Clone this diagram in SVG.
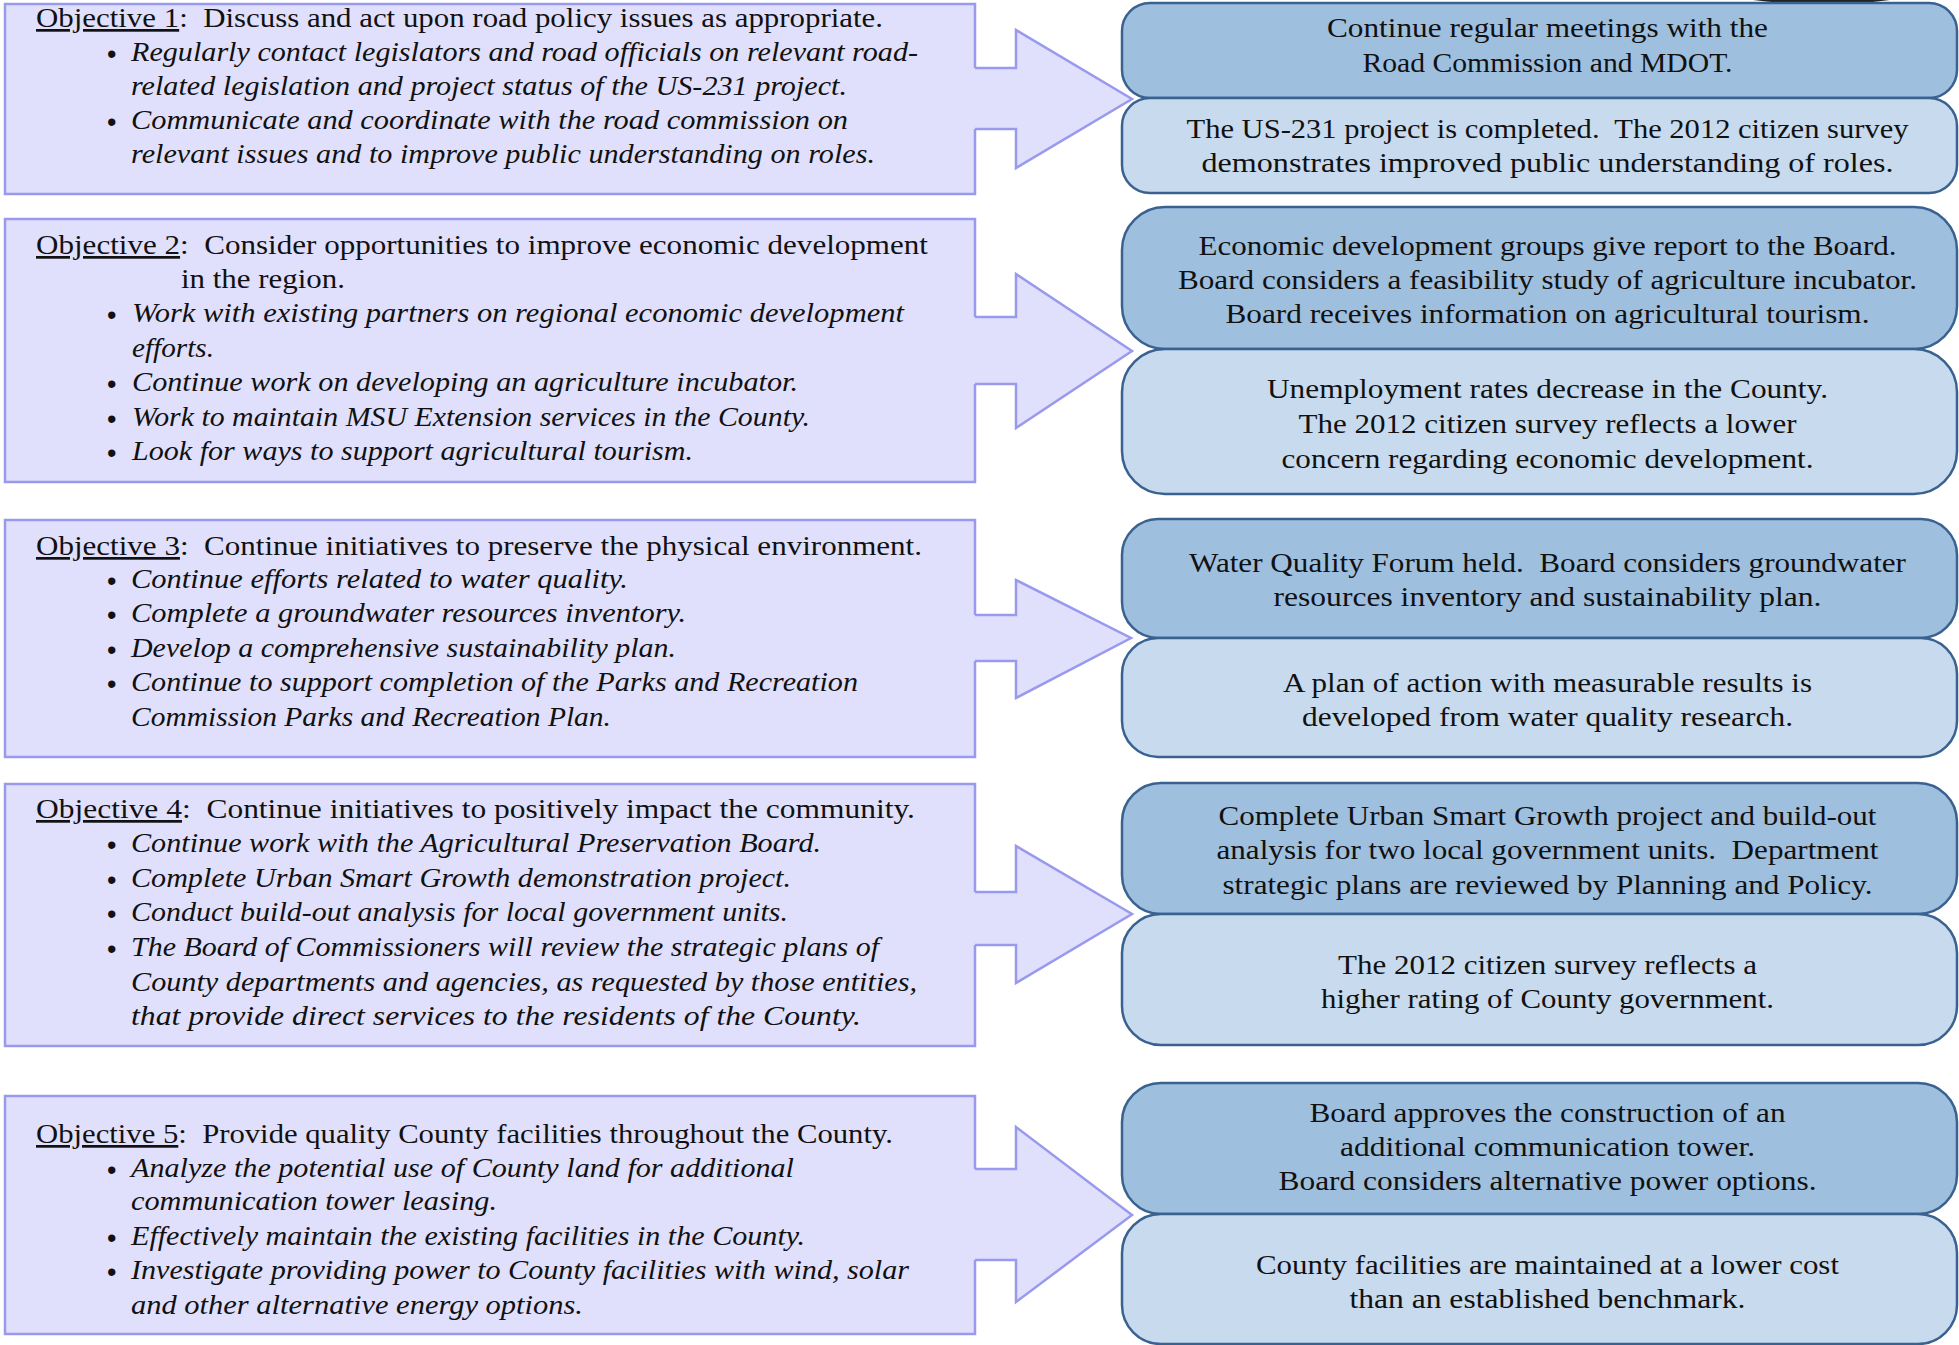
<svg xmlns="http://www.w3.org/2000/svg" width="1959" height="1345" viewBox="0 0 1959 1345">
<style>
.t{font-family:"Liberation Serif","Times New Roman",serif;font-size:27px;fill:#111}
.i{font-style:italic}
.c{text-anchor:middle}
.u{text-decoration:underline}
.b{font-family:"Liberation Sans",Arial,sans-serif;font-size:27px;fill:#111}
.lb{fill:#E0E0FC;stroke:#9999EE;stroke-width:2.5}
.af{fill:#E0E0FC;stroke:none}
.al{fill:none;stroke:#9999EE;stroke-width:2.5;stroke-linejoin:miter}
.rt{fill:#9FBFDF;stroke:#3A6290;stroke-width:2.5}
.rb{fill:#C8DAEE;stroke:#3A6290;stroke-width:2.5}
</style>
<rect width="1959" height="1345" fill="#FFFFFF"/>
<path d="M1753,0 Q1821,9 1890,0 Z" fill="#222"/>

<g id="obj1">
<rect class="lb" x="5" y="4" width="970" height="190"/>
<text class="t" x="36" y="27" textLength="847" lengthAdjust="spacingAndGlyphs"><tspan class="u">Objective 1</tspan>:&#160; Discuss and act upon road policy issues as appropriate.</text>
<text class="b" x="107" y="63">•</text>
<text class="t i" x="131" y="61" textLength="787" lengthAdjust="spacingAndGlyphs">Regularly contact legislators and road officials on relevant road-</text>
<text class="t i" x="131" y="95" textLength="716" lengthAdjust="spacingAndGlyphs">related legislation and project status of the US-231 project.</text>
<text class="b" x="107" y="131">•</text>
<text class="t i" x="131" y="129" textLength="717" lengthAdjust="spacingAndGlyphs">Communicate and coordinate with the road commission on</text>
<text class="t i" x="131" y="163" textLength="744" lengthAdjust="spacingAndGlyphs">relevant issues and to improve public understanding on roles.</text>
</g>

<g id="obj2">
<rect class="lb" x="5" y="219" width="970" height="263"/>
<text class="t" x="36" y="254" textLength="892" lengthAdjust="spacingAndGlyphs"><tspan class="u">Objective 2</tspan>:&#160; Consider opportunities to improve economic development</text>
<text class="t" x="181" y="288" textLength="164" lengthAdjust="spacingAndGlyphs">in the region.</text>
<text class="b" x="107" y="324">•</text>
<text class="t i" x="132" y="322" textLength="772" lengthAdjust="spacingAndGlyphs">Work with existing partners on regional economic development</text>
<text class="t i" x="132" y="357" textLength="82" lengthAdjust="spacingAndGlyphs">efforts.</text>
<text class="b" x="107" y="393">•</text>
<text class="t i" x="132" y="391" textLength="666" lengthAdjust="spacingAndGlyphs">Continue work on developing an agriculture incubator.</text>
<text class="b" x="107" y="428">•</text>
<text class="t i" x="132" y="426" textLength="678" lengthAdjust="spacingAndGlyphs">Work to maintain MSU Extension services in the County.</text>
<text class="b" x="107" y="462">•</text>
<text class="t i" x="132" y="460" textLength="561" lengthAdjust="spacingAndGlyphs">Look for ways to support agricultural tourism.</text>
</g>

<g id="obj3">
<rect class="lb" x="5" y="520" width="970" height="237"/>
<text class="t" x="36" y="555" textLength="886" lengthAdjust="spacingAndGlyphs"><tspan class="u">Objective 3</tspan>:&#160; Continue initiatives to preserve the physical environment.</text>
<text class="b" x="107" y="590">•</text>
<text class="t i" x="131" y="588" textLength="497" lengthAdjust="spacingAndGlyphs">Continue efforts related to water quality.</text>
<text class="b" x="107" y="624">•</text>
<text class="t i" x="131" y="622" textLength="555" lengthAdjust="spacingAndGlyphs">Complete a groundwater resources inventory.</text>
<text class="b" x="107" y="659">•</text>
<text class="t i" x="131" y="657" textLength="545" lengthAdjust="spacingAndGlyphs">Develop a comprehensive sustainability plan.</text>
<text class="b" x="107" y="693">•</text>
<text class="t i" x="131" y="691" textLength="727" lengthAdjust="spacingAndGlyphs">Continue to support completion of the Parks and Recreation</text>
<text class="t i" x="131" y="726" textLength="480" lengthAdjust="spacingAndGlyphs">Commission Parks and Recreation Plan.</text>
</g>

<g id="obj4">
<rect class="lb" x="5" y="784" width="970" height="262"/>
<text class="t" x="36" y="818" textLength="879" lengthAdjust="spacingAndGlyphs"><tspan class="u">Objective 4</tspan>:&#160; Continue initiatives to positively impact the community.</text>
<text class="b" x="107" y="854">•</text>
<text class="t i" x="131" y="852" textLength="690" lengthAdjust="spacingAndGlyphs">Continue work with the Agricultural Preservation Board.</text>
<text class="b" x="107" y="889">•</text>
<text class="t i" x="131" y="887" textLength="660" lengthAdjust="spacingAndGlyphs">Complete Urban Smart Growth demonstration project.</text>
<text class="b" x="107" y="923">•</text>
<text class="t i" x="131" y="921" textLength="657" lengthAdjust="spacingAndGlyphs">Conduct build-out analysis for local government units.</text>
<text class="b" x="107" y="958">•</text>
<text class="t i" x="131" y="956" textLength="748" lengthAdjust="spacingAndGlyphs">The Board of Commissioners will review the strategic plans of</text>
<text class="t i" x="131" y="991" textLength="786" lengthAdjust="spacingAndGlyphs">County departments and agencies, as requested by those entities,</text>
<text class="t i" x="131" y="1025" textLength="730" lengthAdjust="spacingAndGlyphs">that provide direct services to the residents of the County.</text>
</g>

<g id="obj5">
<rect class="lb" x="5" y="1096" width="970" height="238"/>
<text class="t" x="36" y="1143" textLength="857" lengthAdjust="spacingAndGlyphs"><tspan class="u">Objective 5</tspan>:&#160; Provide quality County facilities throughout the County.</text>
<text class="b" x="107" y="1179">•</text>
<text class="t i" x="131" y="1177" textLength="663" lengthAdjust="spacingAndGlyphs">Analyze the potential use of County land for additional</text>
<text class="t i" x="131" y="1210" textLength="366" lengthAdjust="spacingAndGlyphs">communication tower leasing.</text>
<text class="b" x="107" y="1247">•</text>
<text class="t i" x="131" y="1245" textLength="674" lengthAdjust="spacingAndGlyphs">Effectively maintain the existing facilities in the County.</text>
<text class="b" x="107" y="1281">•</text>
<text class="t i" x="131" y="1279" textLength="778" lengthAdjust="spacingAndGlyphs">Investigate providing power to County facilities with wind, solar</text>
<text class="t i" x="131" y="1314" textLength="452" lengthAdjust="spacingAndGlyphs">and other alternative energy options.</text>
</g>

<g id="connectors">
<g id="arrow1">
<polygon class="af" points="972,68 1016,68 1016,30 1132,99 1016,168 1016,129 972,129"/>
<polyline class="al" points="975,68 1016,68 1016,30 1132,99 1016,168 1016,129 975,129"/>
</g>
<g id="arrow2">
<polygon class="af" points="972,317 1016,317 1016,274 1132,351 1016,428 1016,384 972,384"/>
<polyline class="al" points="975,317 1016,317 1016,274 1132,351 1016,428 1016,384 975,384"/>
</g>
<g id="arrow3">
<polygon class="af" points="972,615 1016,615 1016,580 1131,638 1016,698 1016,661 972,661"/>
<polyline class="al" points="975,615 1016,615 1016,580 1131,638 1016,698 1016,661 975,661"/>
</g>
<g id="arrow4">
<polygon class="af" points="972,892 1016,892 1016,846 1132,914 1016,983 1016,945 972,945"/>
<polyline class="al" points="975,892 1016,892 1016,846 1132,914 1016,983 1016,945 975,945"/>
</g>
<g id="arrow5">
<polygon class="af" points="972,1169 1016,1169 1016,1127 1132,1215 1016,1302 1016,1260 972,1260"/>
<polyline class="al" points="975,1169 1016,1169 1016,1127 1132,1215 1016,1302 1016,1260 975,1260"/>
</g>
</g>

<g id="out1a">
<rect class="rt" x="1122" y="3" width="835" height="95" rx="28" ry="28"/>
<text class="t c" x="1547.5" y="37" textLength="441" lengthAdjust="spacingAndGlyphs">Continue regular meetings with the</text>
<text class="t c" x="1547.5" y="72" textLength="370" lengthAdjust="spacingAndGlyphs">Road Commission and MDOT.</text>
</g>
<g id="out1b">
<rect class="rb" x="1122" y="98" width="835" height="95" rx="28" ry="28"/>
<text class="t c" x="1547.5" y="138" textLength="722" lengthAdjust="spacingAndGlyphs">The US-231 project is completed.&#160; The 2012 citizen survey</text>
<text class="t c" x="1547.5" y="172" textLength="692" lengthAdjust="spacingAndGlyphs">demonstrates improved public understanding of roles.</text>
</g>

<g id="out2a">
<rect class="rt" x="1122" y="207" width="835" height="142" rx="43" ry="43"/>
<text class="t c" x="1547.5" y="255" textLength="698" lengthAdjust="spacingAndGlyphs">Economic development groups give report to the Board.</text>
<text class="t c" x="1547.5" y="289" textLength="739" lengthAdjust="spacingAndGlyphs">Board considers a feasibility study of agriculture incubator.</text>
<text class="t c" x="1547.5" y="323" textLength="644" lengthAdjust="spacingAndGlyphs">Board receives information on agricultural tourism.</text>
</g>
<g id="out2b">
<rect class="rb" x="1122" y="349" width="835" height="145" rx="43" ry="43"/>
<text class="t c" x="1547.5" y="398" textLength="561" lengthAdjust="spacingAndGlyphs">Unemployment rates decrease in the County.</text>
<text class="t c" x="1547.5" y="433" textLength="498" lengthAdjust="spacingAndGlyphs">The 2012 citizen survey reflects a lower</text>
<text class="t c" x="1547.5" y="468" textLength="532" lengthAdjust="spacingAndGlyphs">concern regarding economic development.</text>
</g>

<g id="out3a">
<rect class="rt" x="1122" y="519" width="835" height="119" rx="36" ry="36"/>
<text class="t c" x="1547.5" y="572" textLength="717" lengthAdjust="spacingAndGlyphs">Water Quality Forum held.&#160; Board considers groundwater</text>
<text class="t c" x="1547.5" y="606" textLength="548" lengthAdjust="spacingAndGlyphs">resources inventory and sustainability plan.</text>
</g>
<g id="out3b">
<rect class="rb" x="1122" y="638" width="835" height="119" rx="36" ry="36"/>
<text class="t c" x="1547.5" y="692" textLength="529" lengthAdjust="spacingAndGlyphs">A plan of action with measurable results is</text>
<text class="t c" x="1547.5" y="726" textLength="491" lengthAdjust="spacingAndGlyphs">developed from water quality research.</text>
</g>

<g id="out4a">
<rect class="rt" x="1122" y="783" width="835" height="131" rx="39" ry="39"/>
<text class="t c" x="1547.5" y="825" textLength="658" lengthAdjust="spacingAndGlyphs">Complete Urban Smart Growth project and build-out</text>
<text class="t c" x="1547.5" y="859" textLength="662" lengthAdjust="spacingAndGlyphs">analysis for two local government units.&#160; Department</text>
<text class="t c" x="1547.5" y="894" textLength="650" lengthAdjust="spacingAndGlyphs">strategic plans are reviewed by Planning and Policy.</text>
</g>
<g id="out4b">
<rect class="rb" x="1122" y="914" width="835" height="131" rx="39" ry="39"/>
<text class="t c" x="1547.5" y="974" textLength="419" lengthAdjust="spacingAndGlyphs">The 2012 citizen survey reflects a</text>
<text class="t c" x="1547.5" y="1008" textLength="453" lengthAdjust="spacingAndGlyphs">higher rating of County government.</text>
</g>

<g id="out5a">
<rect class="rt" x="1122" y="1083" width="835" height="131" rx="39" ry="39"/>
<text class="t c" x="1547.5" y="1122" textLength="476" lengthAdjust="spacingAndGlyphs">Board approves the construction of an</text>
<text class="t c" x="1547.5" y="1156" textLength="415" lengthAdjust="spacingAndGlyphs">additional communication tower.</text>
<text class="t c" x="1547.5" y="1190" textLength="538" lengthAdjust="spacingAndGlyphs">Board considers alternative power options.</text>
</g>
<g id="out5b">
<rect class="rb" x="1122" y="1214" width="835" height="130" rx="39" ry="39"/>
<text class="t c" x="1547.5" y="1274" textLength="583" lengthAdjust="spacingAndGlyphs">County facilities are maintained at a lower cost</text>
<text class="t c" x="1547.5" y="1308" textLength="396" lengthAdjust="spacingAndGlyphs">than an established benchmark.</text>
</g>
</svg>
